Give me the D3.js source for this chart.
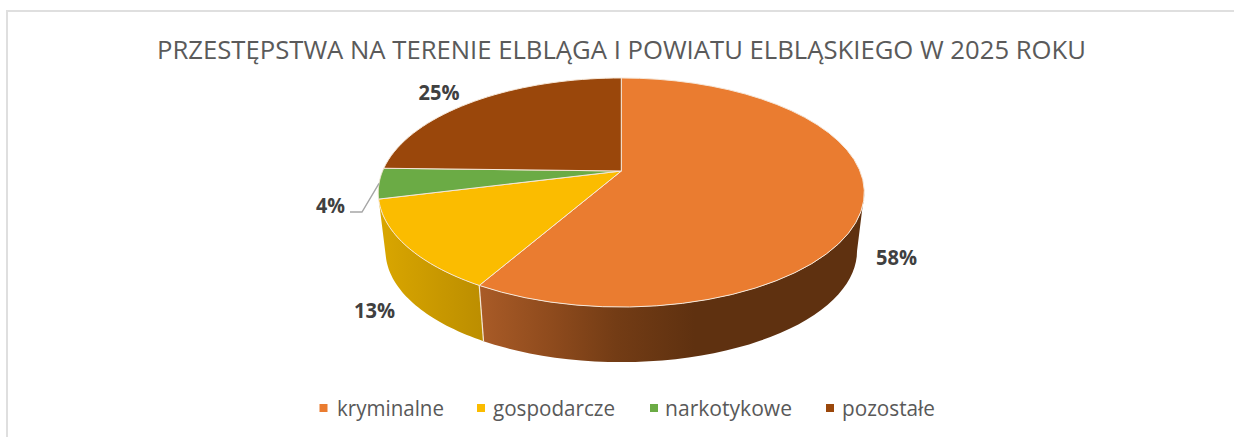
<!DOCTYPE html>
<html><head><meta charset="utf-8">
<script src="https://cdn.jsdelivr.net/npm/d3@7"></script>
<style>html,body{margin:0;padding:0;background:#fff}svg{display:block}text{font-family:"Open Sans",Lato,sans-serif}</style>
</head><body><div id="chart"></div>
<script>
const chartTitle = "PRZESTĘPSTWA NA TERENIE ELBLĄGA I POWIATU ELBLĄSKIEGO W 2025 ROKU";
const categories = ["kryminalne","gospodarcze","narkotykowe","pozostałe"];
const values = [58.3,12.8,4.3,24.6];
const percentLabels = ["58%","13%","4%","25%"];
const colors = ["#EA7C30","#FBBC00","#6BAB45","#9A470B"];

const W=1234,H=437;
const svg=d3.select("#chart").append("svg").attr("width",W).attr("height",H);
svg.append("path").attr("d",`M7,${H}V11H${W}`).attr("fill","none").attr("stroke","#DFDFDF").attr("stroke-width",2);

// perspective projection of the pie's disc
const cx=621.3,cy=171,a=238.7,b=110.5,k=0.1878;
const topRim=t=>{const u=Math.sin(t),v=-Math.cos(t),w=1-k*v;return [cx+a*u/w,cy+b*v/w];};
const rimCy=cy+b*k/(1-k*k), depth=58.5, shrink=0.97;
const bottomRim=t=>{const [x,y]=topRim(t);return [cx+(x-cx)*shrink,rimCy+depth+(y-rimCy)*shrink];};
const pie=d3.pie().sort(null).value(d=>d);
const arcs=pie(values);
const sample=(t0,t1,f)=>d3.range(0,41).map(i=>f(t0+(t1-t0)*i/40));
const line=d3.line();
const wallFrom=Math.acos(-k), wallTo=arcs[1].endAngle;

const defs=svg.append("defs");
const g0=defs.append("linearGradient").attr("id","wall0").attr("gradientUnits","userSpaceOnUse").attr("x1",480).attr("x2",870).attr("y1",0).attr("y2",0);
[[0,"#A95B27"],[0.18,"#8F4B1D"],[0.35,"#733C15"],[0.55,"#5F3110"],[1,"#5F3110"]].forEach(([o,c])=>g0.append("stop").attr("offset",o).attr("stop-color",c));
const g1=defs.append("linearGradient").attr("id","wall1").attr("gradientUnits","userSpaceOnUse").attr("x1",380).attr("x2",482).attr("y1",0).attr("y2",0);
[[0,"#D9A600"],[1,"#BC8E00"]].forEach(([o,c])=>g1.append("stop").attr("offset",o).attr("stop-color",c));

// walls
const gw=svg.append("g");
arcs.forEach((d,i)=>{
  const t0=Math.max(d.startAngle,wallFrom),t1=Math.min(d.endAngle,wallTo);
  if(t1<=t0) return;
  const pts=sample(t0,t1,topRim).concat(sample(t1,t0,bottomRim));
  gw.append("path").attr("d",line(pts)+"Z").attr("fill",`url(#wall${i})`);
});
// seam between the two visible walls
gw.append("path").attr("d",line([topRim(arcs[0].endAngle),bottomRim(arcs[0].endAngle)])).attr("stroke","#F3E6D6").attr("stroke-width",1.2).attr("fill","none");

// top faces
svg.append("g").selectAll("path").data(arcs).join("path")
 .attr("d",d=>line([[cx,cy],...sample(d.startAngle,d.endAngle,topRim)])+"Z")
 .attr("fill",(d,i)=>colors[i]).attr("stroke","#F6E7D8").attr("stroke-width",1).attr("stroke-linejoin","round");

// labels
const labelPos=[[896.5,265],[374.5,318],[330.5,213],[439,100]];
const labelW=[41,41,29,41];
svg.append("g").selectAll("text").data(percentLabels).join("text")
 .attr("x",(d,i)=>labelPos[i][0]).attr("y",(d,i)=>labelPos[i][1]).attr("text-anchor","middle")
 .attr("font-size",21).attr("font-weight",700).attr("fill","#404040")
 .attr("textLength",(d,i)=>labelW[i]).attr("lengthAdjust","spacingAndGlyphs").text(d=>d);
svg.append("path").attr("d",line([topRim((arcs[2].startAngle+arcs[2].endAngle)/2),[362,212],[350,212]]))
 .attr("fill","none").attr("stroke","#A6A6A6").attr("stroke-width",1.4);

svg.append("text").attr("x",621.5).attr("y",59).attr("text-anchor","middle").attr("font-size",26).attr("fill","#5A5A5A").attr("textLength",929).attr("lengthAdjust","spacingAndGlyphs").text(chartTitle);

// legend
const legendX=[319.5,477,650,826], legendTextX=[337,493,665,842], legendTextW=[107,122,127,93];
const lg=svg.append("g").selectAll("g").data(categories).join("g");
lg.append("rect").attr("x",(d,i)=>legendX[i]).attr("y",404).attr("width",8).attr("height",8).attr("fill",(d,i)=>colors[i]);
lg.append("text").attr("x",(d,i)=>legendTextX[i]).attr("y",416).attr("font-size",21.5).attr("fill","#595959").attr("textLength",(d,i)=>legendTextW[i]).attr("lengthAdjust","spacingAndGlyphs").text(d=>d);
</script></body></html>
